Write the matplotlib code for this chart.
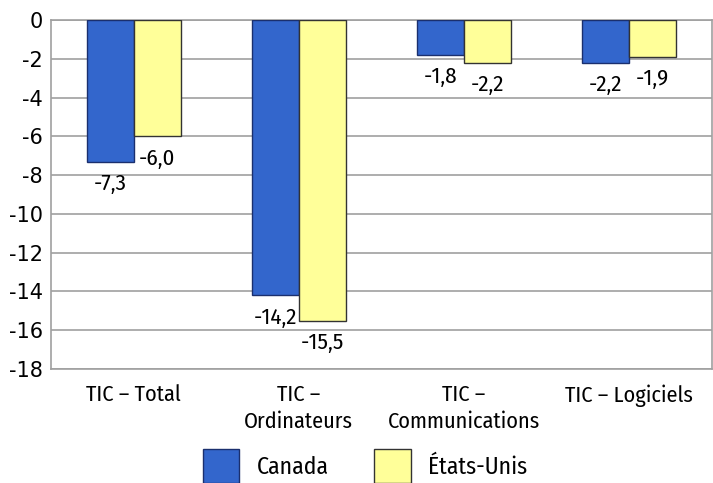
import numpy as np
import matplotlib.pyplot as plt

categories = ['TIC – Total', 'TIC –\nOrdinateurs', 'TIC –\nCommunications', 'TIC – Logiciels']
canada = [-7.3, -14.2, -1.8, -2.2]
etats_unis = [-6.0, -15.5, -2.2, -1.9]
series_names = ['Canada', 'États-Unis']

narrow = ['Fira Sans Condensed', 'DejaVu Sans']

fig = plt.figure(figsize=(7.13, 4.83), dpi=100)
ax = fig.add_axes([0.0715, 0.236, 0.927, 0.7226])

x = np.arange(len(categories))
w = 0.285
b1 = ax.bar(x - w / 2, canada, w, color='#3366cc', edgecolor='#1a2f6e', linewidth=1, zorder=3)
b2 = ax.bar(x + w / 2, etats_unis, w, color='#ffff99', edgecolor='#333333', linewidth=1, zorder=3)

# value labels under the bar ends
for bars, vals in ((b1, canada), (b2, etats_unis)):
    for rect, v in zip(bars, vals):
        ax.annotate(f'{v:.1f}'.replace('.', ','),
                    (rect.get_x() + rect.get_width() / 2, v),
                    xytext=(0, -16), textcoords='offset points',
                    ha='center', va='center', fontsize=16.5, family=narrow)

ax.set_xlim(-0.5, len(categories) - 0.5)
ax.set_ylim(-18, 0)
ax.set_yticks(np.arange(-18, 1, 2))
ax.set_yticklabels([str(t) for t in range(-18, 1, 2)], fontsize=15)
ax.set_xticks(x)
ax.set_xticklabels(categories, fontsize=16, family=narrow, linespacing=1.3)
ax.tick_params(length=0, pad=6)
ax.tick_params(axis='x', pad=11)
ax.grid(axis='y', color='#a0a0a0', linewidth=1.2, zorder=0)
for s in ax.spines.values():
    s.set_color('#a0a0a0')
    s.set_linewidth(1.2)

fig.legend([b1, b2], series_names, loc='center', bbox_to_anchor=(0.512, 0.035),
           ncol=2, frameon=False, prop={'family': narrow, 'size': 17},
           handlelength=1.55, handleheight=1.8, handletextpad=0.75, columnspacing=1.9)

plt.savefig('out.png', dpi=100)
